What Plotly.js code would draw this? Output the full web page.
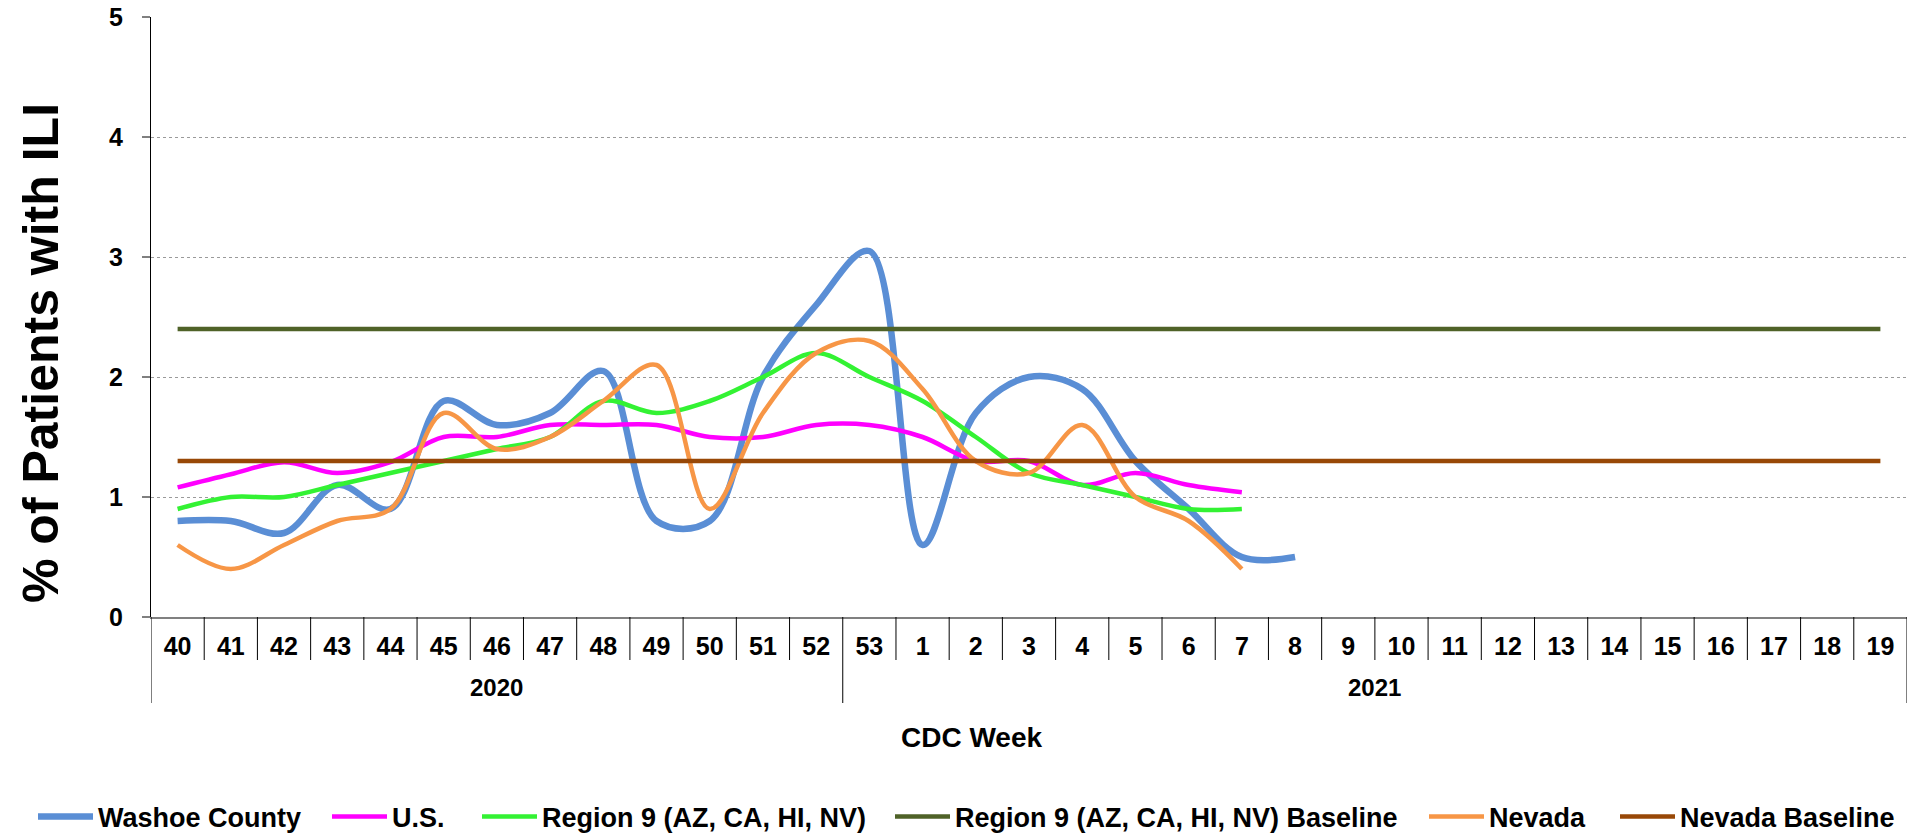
<!DOCTYPE html>
<html>
<head>
<meta charset="utf-8">
<script src="https://cdn.plot.ly/plotly-3.0.1.min.js"></script>
<style>
  html, body { margin: 0; padding: 0; background: #ffffff; }
  #chart { width: 1907px; height: 837px; }
</style>
</head>
<body>
<div id="chart"></div>
<script>
// ---- data ----
const weeks = ['40','41','42','43','44','45','46','47','48','49','50','51','52','53',
               '1','2','3','4','5','6','7','8','9','10','11','12','13','14','15','16','17','18','19'];
const years = ['2020','2020','2020','2020','2020','2020','2020','2020','2020','2020','2020','2020','2020',
               '2021','2021','2021','2021','2021','2021','2021','2021','2021','2021','2021','2021','2021',
               '2021','2021','2021','2021','2021','2021','2021'];

const washoeCounty = [0.8, 0.8, 0.7, 1.1, 0.9, 1.8, 1.6, 1.7, 2.05, 0.8, 0.8, 2.0, 2.6, 3.05,
                      0.6, 1.7, 2.0, 1.9, 1.3, 0.9, 0.5, 0.5];
const unitedStates = [1.08, 1.19, 1.29, 1.2, 1.29, 1.5, 1.5, 1.6, 1.6, 1.6, 1.5, 1.5, 1.6, 1.6,
                      1.5, 1.3, 1.3, 1.1, 1.2, 1.1, 1.04];
const region9 = [0.9, 1.0, 1.0, 1.1, 1.2, 1.3, 1.4, 1.5, 1.8, 1.7, 1.8, 2.0, 2.2, 2.0,
                 1.8, 1.5, 1.2, 1.1, 1.0, 0.9, 0.9];
const region9Baseline = [2.4, 2.4, 2.4, 2.4, 2.4, 2.4, 2.4, 2.4, 2.4, 2.4, 2.4, 2.4, 2.4, 2.4,
                         2.4, 2.4, 2.4, 2.4, 2.4, 2.4, 2.4, 2.4, 2.4, 2.4, 2.4, 2.4, 2.4, 2.4,
                         2.4, 2.4, 2.4, 2.4, 2.4];
const nevada = [0.6, 0.4, 0.6, 0.8, 0.9, 1.7, 1.4, 1.5, 1.8, 2.1, 0.9, 1.7, 2.2, 2.3,
                1.9, 1.3, 1.2, 1.6, 1.0, 0.8, 0.4];
const nevadaBaseline = [1.3, 1.3, 1.3, 1.3, 1.3, 1.3, 1.3, 1.3, 1.3, 1.3, 1.3, 1.3, 1.3, 1.3,
                        1.3, 1.3, 1.3, 1.3, 1.3, 1.3, 1.3, 1.3, 1.3, 1.3, 1.3, 1.3, 1.3, 1.3,
                        1.3, 1.3, 1.3, 1.3, 1.3];
const yTicks = [0, 1, 2, 3, 4, 5];

// ---- styling ----
const FONT = 'Liberation Sans, Arial, Helvetica, sans-serif';
const W = 1907, PLOT_H = 600;
// left edge (px) of each legend entry
const legendLeft = [33, 327, 477, 890, 1424, 1615];

function series(name, values, color, width, idx) {
  return {
    type: 'scatter', mode: 'lines', name: name,
    x: weeks.slice(0, values.length), y: values,
    line: { color: color, width: width, shape: 'spline', smoothing: 1 },
    legend: idx === 0 ? 'legend' : 'legend' + (idx + 1),
    hoverinfo: 'skip'
  };
}
const traces = [
  series('Washoe County', washoeCounty, '#5A8ED5', 6.5, 0),
  series('U.S.', unitedStates, '#FF00FF', 4.5, 1),
  series('Region 9 (AZ, CA, HI, NV)', region9, '#33F233', 4.5, 2),
  series('Region 9 (AZ, CA, HI, NV) Baseline', region9Baseline, '#4F6228', 4.5, 3),
  series('Nevada', nevada, '#F79646', 4.5, 4),
  series('Nevada Baseline', nevadaBaseline, '#984807', 4.5, 5)
];

const shapes = [];
for (let k = 0; k <= weeks.length; k++) {
  const isGroup = (k === 0 || k === weeks.length || years[k] !== years[k - 1]);
  shapes.push({
    type: 'line', xref: 'x', yref: 'paper',
    x0: k - 0.5, x1: k - 0.5, y0: 0, y1: -(isGroup ? 86 : 43) / PLOT_H,
    line: { color: '#000000', width: 1 }
  });
}

const annotations = [];
const uniqYears = [...new Set(years)];
uniqYears.forEach(yr => {
  const first = years.indexOf(yr), last = years.lastIndexOf(yr);
  annotations.push({
    xref: 'x', yref: 'paper', x: (first + last) / 2, y: -70 / PLOT_H,
    xanchor: 'center', yanchor: 'middle', showarrow: false,
    text: yr, font: { family: FONT, size: 24, color: '#000', weight: 'bold' }
  });
});
annotations.push({
  xref: 'paper', yref: 'paper', x: (972 - 151) / 1756, y: -120 / PLOT_H,
  xanchor: 'center', yanchor: 'middle', showarrow: false,
  text: 'CDC Week', font: { family: FONT, size: 28, color: '#000', weight: 'bold' }
});
annotations.push({
  xref: 'paper', yref: 'paper', x: (41 - 151) / 1756, y: (617 - 353) / PLOT_H,
  xanchor: 'center', yanchor: 'middle', showarrow: false, textangle: -90,
  text: '% of Patients with ILI', font: { family: FONT, size: 50, color: '#000', weight: 'bold' }
});

const layout = {
  width: W, height: 837,
  margin: { l: 151, r: 0, t: 17, b: 220, autoexpand: false },
  paper_bgcolor: '#ffffff', plot_bgcolor: '#ffffff',
  font: { family: FONT, size: 24, color: '#000000', weight: 'bold' },
  showlegend: true,
  xaxis: {
    type: 'category', categoryorder: 'array', categoryarray: weeks,
    range: [-0.5, weeks.length - 0.5],
    tickmode: 'array', tickvals: weeks, ticktext: weeks,
    ticks: '', showgrid: false, zeroline: false,
    showline: true, linecolor: '#808080', linewidth: 2,
    tickfont: { family: FONT, size: 25, color: '#000', weight: 'bold' },
    ticklabelstandoff: 6, fixedrange: true
  },
  yaxis: {
    range: [0, 5], tickmode: 'array', tickvals: yTicks,
    showgrid: true, gridcolor: '#9a9a9a', griddash: 'dot', gridwidth: 1,
    zeroline: false, showline: true, linecolor: '#000000', linewidth: 1,
    ticks: 'outside', ticklen: 8, tickcolor: '#808080', tickwidth: 2,
    tickfont: { family: FONT, size: 25, color: '#000', weight: 'bold' },
    ticklabelstandoff: 14, fixedrange: true
  },
  shapes: shapes,
  annotations: annotations,
  hovermode: false
};
legendLeft.forEach((px, i) => {
  layout[i === 0 ? 'legend' : 'legend' + (i + 1)] = {
    orientation: 'h', xref: 'container', x: px / W, xanchor: 'left',
    yref: 'paper', y: -200 / PLOT_H, yanchor: 'middle',
    itemwidth: 55, borderwidth: 0,
    font: { family: FONT, size: 27, color: '#000', weight: 'bold' },
    bgcolor: 'rgba(0,0,0,0)'
  };
});

Plotly.newPlot('chart', traces, layout, { staticPlot: true, displayModeBar: false });
</script>
</body>
</html>
